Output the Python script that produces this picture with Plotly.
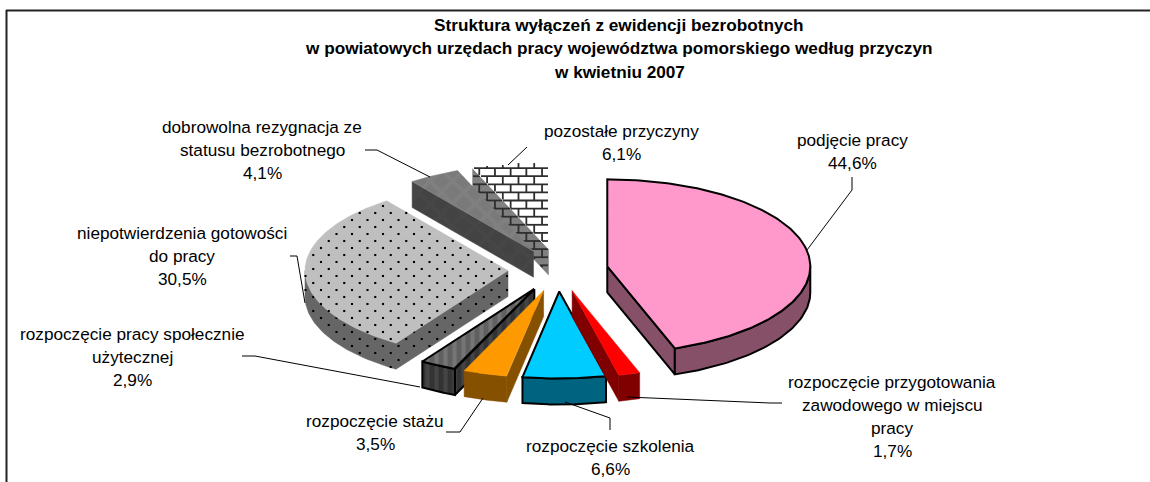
import numpy as np
import plotly.graph_objects as go

# ---- data ----
categories = ["podjęcie pracy", "rozpoczęcie przygotowania zawodowego w miejscu pracy",
              "rozpoczęcie szkolenia", "rozpoczęcie stażu",
              "rozpoczęcie pracy społecznie użytecznej", "niepotwierdzenia gotowości do pracy",
              "dobrowolna rezygnacja ze statusu bezrobotnego", "pozostałe przyczyny"]
values = [44.6, 1.7, 6.6, 3.5, 2.9, 30.5, 4.1, 6.1]
value_labels = ["44,6%", "1,7%", "6,6%", "3,5%", "2,9%", "30,5%", "4,1%", "6,1%"]
label_lines = [["podjęcie pracy"],
               ["rozpoczęcie przygotowania", "zawodowego w miejscu", "pracy"],
               ["rozpoczęcie szkolenia"],
               ["rozpoczęcie stażu"],
               ["rozpoczęcie pracy społecznie", "użytecznej"],
               ["niepotwierdzenia gotowości", "do pracy"],
               ["dobrowolna rezygnacja ze", "statusu bezrobotnego"],
               ["pozostałe przyczyny"]]
title_lines = ["Struktura wyłączeń z ewidencji bezrobotnych",
               "w powiatowych urzędach pracy województwa pomorskiego według przyczyn",
               "w kwietniu 2007"]

# ---- styles / layout ----
top_col = ["#ff99cc", "#ff0000", "#00ccff", "#ff9900", "#6e6e6e", "#bfbfbf", "#808080", "#ffffff"]
wall_col = ["#855068", "#800000", "#006480", "#855000", "#3a3a3a", "#666666", "#484848", "#808080"]
outline = [True, False, True, False, True, False, False, False]
CX, CY, RX, RY, DEPTH, EXPL, K = 558, 270, 203, 87, 26, 50, 0.43
label_pos = [(852, 140), (892, 382), (610, 446), (375, 421), (132, 334), (182, 233), (262, 127), (621, 131)]
leaders = [[(852, 177), (852, 190), (807, 250)],
           [(782, 403), (770, 403), (627, 397)],
           [(565, 402), (610, 418), (610, 430)],
           [(483, 398), (460, 432), (446, 432)],
           [(242, 356), (255, 356), (420, 387)],
           [(290, 256), (297, 256), (305, 303)],
           [(365, 150), (377, 150), (430, 177)],
           [(527, 147), (508, 165)]]
FONT = "Liberation Sans"
LH = 23

fig = go.Figure()

def inside(px, py, poly):
    poly = np.asarray(poly)
    x0, y0 = poly[:, 0], poly[:, 1]
    x1, y1 = np.roll(x0, -1), np.roll(y0, -1)
    res = np.zeros(np.shape(px), dtype=bool)
    for a, b, c, d in zip(x0, y0, x1, y1):
        if b == d:
            continue
        cond = ((b > py) != (d > py)) & (px < (c - a) * (py - b) / (d - b) + a)
        res ^= cond
    return res

def add_poly(poly, fill, line=False, pattern=None):
    xs = [p[0] for p in poly] + [poly[0][0]]
    ys = [p[1] for p in poly] + [poly[0][1]]
    kw = dict(x=xs, y=ys, mode="lines", fill="toself", fillcolor=fill, hoverinfo="skip",
              showlegend=False,
              line=dict(color="#000000" if line else fill, width=2 if line else 0.5))
    if pattern:
        kw["fillpattern"] = pattern
    fig.add_trace(go.Scatter(**kw))

def dots(poly):
    ys = np.arange(150, 400, 7.0)
    px, py = [], []
    for i, y in enumerate(ys):
        xr = np.arange(290 + (i % 2) * 7.75, 540, 15.5)
        px.extend(xr)
        py.extend([y] * len(xr))
    px, py = np.array(px), np.array(py)
    m = inside(px, py, poly)
    fig.add_trace(go.Scatter(x=px[m], y=py[m], mode="markers", hoverinfo="skip", showlegend=False,
                             marker=dict(symbol="square", size=2.1, color="#000000", line=dict(width=0))))

def clipped_line(x0, y0, x1, y1, poly, xs, ys):
    n = int(max(abs(x1 - x0), abs(y1 - y0))) + 1
    tx = np.linspace(x0, x1, n)
    ty = np.linspace(y0, y1, n)
    m = inside(tx, ty, poly)
    for a, b, ok in zip(tx, ty, m):
        xs.append(a if ok else None)
        ys.append(b if ok else None)
    xs.append(None)
    ys.append(None)

def bricks(poly):
    xs, ys = [], []
    dy, dx = 8.1, 15.7
    rows = np.arange(160, 290, dy)
    for i, y in enumerate(rows):
        clipped_line(440, y, 560, y, poly, xs, ys)
        for x in np.arange(440 + (i % 2) * dx / 2, 560, dx):
            clipped_line(x, y, x, y + dy, poly, xs, ys)
    fig.add_trace(go.Scatter(x=xs, y=ys, mode="lines", hoverinfo="skip", showlegend=False,
                             connectgaps=False, line=dict(color="#2e2e2e", width=1.8)))

def pat(i, top):
    if i == 4:
        return dict(shape="|", size=9, solidity=0.45,
                    fgcolor="#8a8a8a" if top else "#555555", bgcolor="#606060" if top else "#333333")
    if i == 6:
        return dict(shape="x", size=16, solidity=0.4,
                    fgcolor="#858585" if top else "#4a4a4a", bgcolor="#7a7a7a" if top else "#434343")
    return None

total = sum(values)
edges = np.concatenate([[0], np.cumsum(values)]) / total * 2 * np.pi
order = [7, 6, 5, 4, 3, 2, 1, 0]

for i in order:
    a0, a1 = edges[i], edges[i + 1]
    mid = (a0 + a1) / 2
    ax = CX + EXPL * np.sin(mid)
    ay = CY - EXPL * K * np.cos(mid)
    def P(t):
        return ax + RX * np.sin(t), ay - RY * np.cos(t)
    walls = []
    # radial walls
    if np.sin(a0) < -1e-6:
        p = P(a0)
        walls.append([(ax, ay), p, (p[0], p[1] + DEPTH), (ax, ay + DEPTH)])
    if np.sin(a1) > 1e-6:
        p = P(a1)
        walls.append([(ax, ay), p, (p[0], p[1] + DEPTH), (ax, ay + DEPTH)])
    # outer wall
    lo, hi = max(a0, np.pi / 2), min(a1, 1.5 * np.pi)
    if hi > lo:
        ts = np.linspace(lo, hi, 60)
        up = [P(t) for t in ts]
        walls.append(up + [(q[0], q[1] + DEPTH) for q in reversed(up)])
    for w in walls:
        add_poly(w, wall_col[i], outline[i], pat(i, False))
        if i == 5:
            dots(w)
        if i == 7:
            bricks(w)
    ts = np.linspace(a0, a1, 160)
    top = [(ax, ay)] + [P(t) for t in ts]
    add_poly(top, top_col[i], outline[i], pat(i, True))
    if i == 5:
        dots(top)
    if i == 7:
        bricks(top)

# leader lines
for pts in leaders:
    fig.add_trace(go.Scatter(x=[p[0] for p in pts], y=[p[1] for p in pts], mode="lines",
                             hoverinfo="skip", showlegend=False, line=dict(color="#000000", width=1)))

# frame
fig.add_shape(type="line", xref="x", yref="y", x0=6, y0=10.5, x1=1150, y1=10.5, line=dict(color="#222222", width=2))
fig.add_shape(type="line", xref="x", yref="y", x0=6.5, y0=10, x1=6.5, y1=482, line=dict(color="#222222", width=2))

def text(x, y, s, bold=False, size=17.2):
    fig.add_annotation(x=x, y=y, xref="x", yref="y", text=f"<b>{s}</b>" if bold else s, showarrow=False,
                       xanchor="center", yanchor="middle", align="center",
                       font=dict(family=FONT, size=size, color="#000000"))

for s, y in zip(title_lines, [25, 48, 72]):
    text(619, y, s, bold=True, size=17.2)
for lines, val, (x, y) in zip(label_lines, value_labels, label_pos):
    for j, s in enumerate(lines + [val]):
        text(x, y + j * LH, s)

fig.update_layout(width=1150, height=482, margin=dict(l=0, r=0, t=0, b=0),
                  paper_bgcolor="#ffffff", plot_bgcolor="#ffffff", showlegend=False,
                  xaxis=dict(range=[0, 1150], visible=False, fixedrange=True),
                  yaxis=dict(range=[482, 0], visible=False, fixedrange=True))
fig.write_html("out.html", config=dict(displayModeBar=False),
               post_script="document.body.style.margin='0';document.body.style.overflow='hidden';")
